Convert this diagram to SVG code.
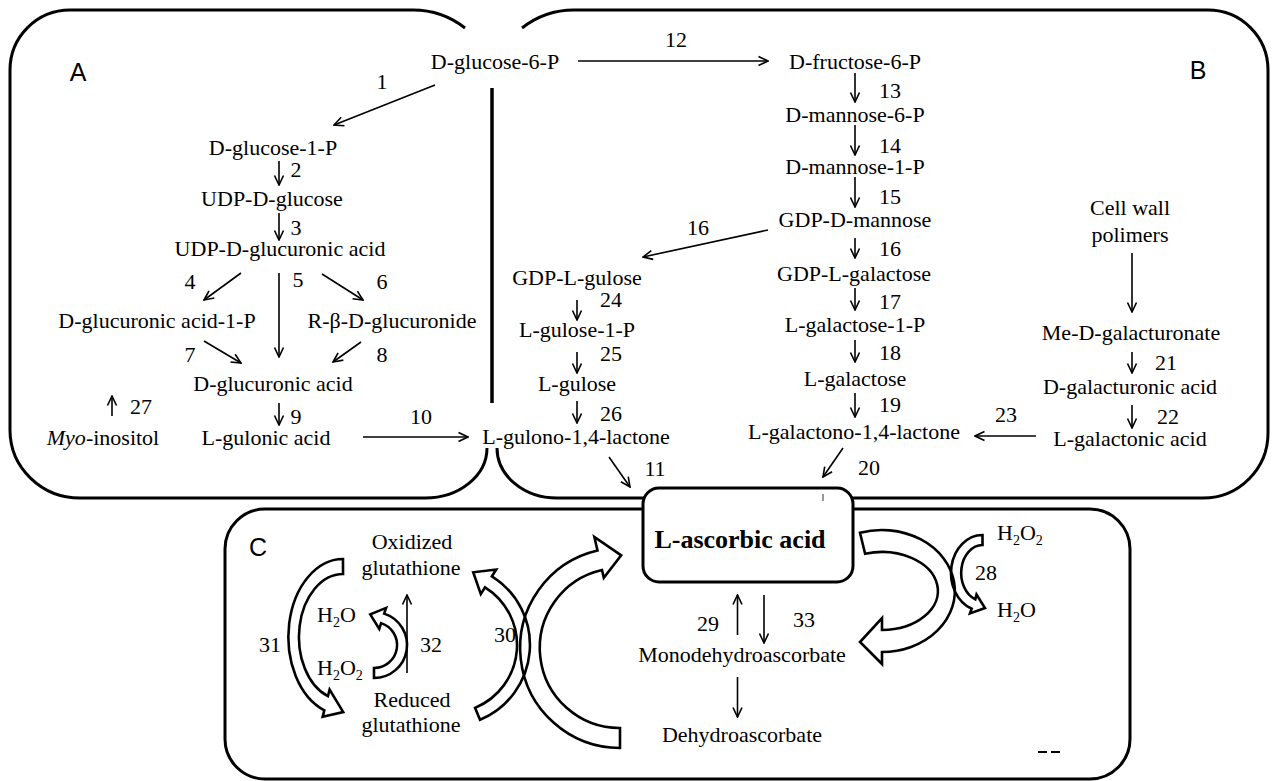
<svg xmlns="http://www.w3.org/2000/svg" width="1273" height="781" viewBox="0 0 1273 781">
<defs>
<style>
.t{font-family:"Liberation Serif","Times New Roman",serif;font-size:22px;text-anchor:middle;fill:#000}
.s{text-anchor:start}
.lbl{font-family:"Liberation Sans",Arial,sans-serif;font-size:25px;text-anchor:middle;fill:#000}
.ln{stroke:#000;stroke-width:1.6;fill:none;marker-end:url(#ah)}
.panel{fill:none;stroke:#000;stroke-width:3}
.blk{fill:none;stroke:#000;stroke-width:2.6;stroke-linejoin:miter;vector-effect:non-scaling-stroke}
.sub{font-size:14px}
</style>
<marker id="ah" viewBox="0 0 12 12" refX="11" refY="6" markerWidth="12" markerHeight="12" markerUnits="userSpaceOnUse" orient="auto">
<path d="M1.5,1.5 L11,6 L1.5,10.5" fill="none" stroke="#000" stroke-width="1.6"/>
</marker>
</defs>
<rect width="1273" height="781" fill="#fff"/>

<g id="panels">
<path class="panel" d="M465 28 A84 84 0 0 0 413 10 H70 A60 60 0 0 0 10 70 V430 A70 68 0 0 0 80 498 H425 A62 50 0 0 0 487 448"/>
<path class="panel" d="M497 448 A60 50 0 0 0 557 498 H1203 A65 65 0 0 0 1268 433 V70 A60 60 0 0 0 1208 10 H575 A84 84 0 0 0 522 28"/>
<rect class="panel" x="225" y="509" width="905" height="270" rx="40"/>
<line x1="492" y1="88" x2="492" y2="403" stroke="#000" stroke-width="3.5"/>
<text class="lbl" x="78" y="81">A</text>
<text class="lbl" x="1198" y="79">B</text>
<text class="lbl" x="258" y="556">C</text>
<path d="M1038 752 h9 M1051 752 h9" stroke="#000" stroke-width="2"/>
</g>

<g id="connectors">
<path class="ln" d="M578 61 H768"/>
<path class="ln" d="M435 85 L334 125"/>
<path class="ln" d="M279 161 V185"/>
<path class="ln" d="M279 213 V240"/>
<path class="ln" d="M241 273 L204 300"/>
<path class="ln" d="M279 273 V357"/>
<path class="ln" d="M322 274 L363 300"/>
<path class="ln" d="M204 341 L241 363"/>
<path class="ln" d="M361 342 L333 362"/>
<path class="ln" d="M112 416 V396"/>
<path class="ln" d="M279 403 V425"/>
<path class="ln" d="M363 437 H468"/>
<path class="ln" d="M855 73 V102"/>
<path class="ln" d="M855 125 V155"/>
<path class="ln" d="M855 177 V207"/>
<path class="ln" d="M855 238 V258"/>
<path class="ln" d="M768 230 L643 257"/>
<path class="ln" d="M855 288 V310"/>
<path class="ln" d="M855 340 V362"/>
<path class="ln" d="M855 393 V417"/>
<path class="ln" d="M577 300 V320"/>
<path class="ln" d="M577 352 V373"/>
<path class="ln" d="M577 401 V423"/>
<path class="ln" d="M609 457 L630 487"/>
<path class="ln" d="M843 448 L823 477"/>
<path class="ln" d="M1132 253 V312"/>
<path class="ln" d="M1132 352 V373"/>
<path class="ln" d="M1132 405 V428"/>
<path class="ln" d="M1036 436 H975"/>
<path class="ln" d="M407 673 V595"/>
<path class="ln" d="M737.5 635 V595"/>
<path class="ln" d="M764 595 V643"/>
<path class="ln" d="M737.5 677 V717"/>
<g transform="translate(343,637) scale(0.7,1) rotate(110) scale(1,-1)"><path class="blk" d="M-59.2 -21.5 L-73.3 -26.7 A78 78 0 0 1 78 0 L85 0 L70.5 26 L56 0 L63 0 A63 63 0 0 0 -59.2 -21.5 Z"/></g>
<g transform="translate(374,645) rotate(-72) scale(1,-1)"><path class="blk" d="M-21.9 -7.1 L-31.4 -10.2 A33 33 0 0 1 33 0 L39 0 L28 13 L17 0 L23 0 A23 23 0 0 0 -21.9 -7.1 Z"/></g>
<g transform="translate(449,645) rotate(-58) scale(1,-1)"><path class="blk" d="M-39.5 -55.4 L-47 -65.9 A81 81 0 0 1 81 0 L89 0 L74.5 18 L60 0 L68 0 A68 68 0 0 0 -39.5 -55.4 Z"/></g>
<g transform="translate(620,648) rotate(257)"><path class="blk" d="M-78 -18 L-97.4 -22.5 A100 100 0 0 1 100 0 L114 0 L90 22 L72 0 L80 0 A80 80 0 0 0 -78 -18 Z"/></g>
<path class="blk" d="M865.1 553.8 L860 532.8 A73 61 0 1 1 882 652 L882 664 L860 642 L882 618 L882 630 A56 39 0 1 0 865.1 553.8 Z"/>
<path class="blk" d="M982.5 545 L982.5 535 A31.5 38 0 0 0 971.7 608.7 L970 613.4 L985 608 L976.5 594.6 L975.3 599.3 A21.5 28 0 0 1 982.5 545 Z"/>
</g>

<g id="n-asc">
<rect x="643" y="488" width="210" height="94" rx="16" fill="#fff" stroke="#000" stroke-width="3"/>
<line x1="823" y1="494" x2="823" y2="501" stroke="#777" stroke-width="1.5"/>
<text class="t" x="740" y="548" style="font-weight:bold;font-size:26px">L-ascorbic acid</text>
</g>

<g id="n-g6p"><text class="t" x="495" y="69">D-glucose-6-P</text></g>
<g id="n-g1p"><text class="t" x="273" y="155">D-glucose-1-P</text></g>
<g id="n-udpg"><text class="t" x="272" y="206">UDP-D-glucose</text></g>
<g id="n-udpga"><text class="t" x="280" y="256">UDP-D-glucuronic acid</text></g>
<g id="n-ga1p"><text class="t" x="157" y="328">D-glucuronic acid-1-P</text></g>
<g id="n-rbg"><text class="t" x="392" y="328">R-β-D-glucuronide</text></g>
<g id="n-ga"><text class="t" x="273" y="391">D-glucuronic acid</text></g>
<g id="n-myo"><text class="t" x="103" y="445"><tspan font-style="italic">Myo</tspan>-inositol</text></g>
<g id="n-gulac"><text class="t" x="266" y="445">L-gulonic acid</text></g>
<g id="n-gulono"><text class="t" x="576" y="444">L-gulono-1,4-lactone</text></g>
<g id="n-f6p"><text class="t" x="855" y="69">D-fructose-6-P</text></g>
<g id="n-m6p"><text class="t" x="855" y="122">D-mannose-6-P</text></g>
<g id="n-m1p"><text class="t" x="855" y="174">D-mannose-1-P</text></g>
<g id="n-gdpm"><text class="t" x="855" y="227">GDP-D-mannose</text></g>
<g id="n-gdpgal"><text class="t" x="854" y="281">GDP-L-galactose</text></g>
<g id="n-gal1p"><text class="t" x="855" y="332">L-galactose-1-P</text></g>
<g id="n-gal"><text class="t" x="855" y="386">L-galactose</text></g>
<g id="n-galono"><text class="t" x="854" y="439">L-galactono-1,4-lactone</text></g>
<g id="n-gdpgul"><text class="t" x="577" y="285">GDP-L-gulose</text></g>
<g id="n-gul1p"><text class="t" x="577" y="337">L-gulose-1-P</text></g>
<g id="n-gul"><text class="t" x="577" y="391">L-gulose</text></g>
<g id="n-cw"><text class="t" x="1130" y="215">Cell wall</text><text class="t" x="1130" y="242">polimers</text></g>
<g id="n-medg"><text class="t" x="1131" y="340">Me-D-galacturonate</text></g>
<g id="n-dga"><text class="t" x="1130" y="394">D-galacturonic acid</text></g>
<g id="n-lga"><text class="t" x="1130" y="446">L-galactonic acid</text></g>
<g id="n-gsso"><text class="t" x="412" y="549">Oxidized</text><text class="t" x="411" y="575">glutathione</text></g>
<g id="n-gsh"><text class="t" x="412" y="707">Reduced</text><text class="t" x="411" y="732">glutathione</text></g>
<g id="n-h2o-l"><text class="t s" x="317" y="622">H<tspan class="sub" dy="5">2</tspan><tspan dy="-5">O</tspan></text></g>
<g id="n-h2o2-l"><text class="t s" x="317" y="675">H<tspan class="sub" dy="5">2</tspan><tspan dy="-5">O</tspan><tspan class="sub" dy="5">2</tspan></text></g>
<g id="n-mdha"><text class="t" x="742" y="662">Monodehydroascorbate</text></g>
<g id="n-dha"><text class="t" x="742" y="742">Dehydroascorbate</text></g>
<g id="n-h2o2-r"><text class="t s" x="997" y="540">H<tspan class="sub" dy="5">2</tspan><tspan dy="-5">O</tspan><tspan class="sub" dy="5">2</tspan></text></g>
<g id="n-h2o-r"><text class="t s" x="997" y="617">H<tspan class="sub" dy="5">2</tspan><tspan dy="-5">O</tspan></text></g>

<g id="labels">
<text class="t" x="382" y="89">1</text>
<text class="t" x="296" y="177">2</text>
<text class="t" x="296" y="235">3</text>
<text class="t" x="190" y="289">4</text>
<text class="t" x="298" y="287">5</text>
<text class="t" x="382" y="289">6</text>
<text class="t" x="190" y="362">7</text>
<text class="t" x="382" y="362">8</text>
<text class="t" x="296" y="424">9</text>
<text class="t" x="421" y="424">10</text>
<text class="t" x="655" y="476">11</text>
<text class="t" x="676" y="47">12</text>
<text class="t" x="890" y="98">13</text>
<text class="t" x="890" y="153">14</text>
<text class="t" x="890" y="204">15</text>
<text class="t" x="698" y="235">16</text>
<text class="t" x="890" y="256">16</text>
<text class="t" x="890" y="309">17</text>
<text class="t" x="890" y="360">18</text>
<text class="t" x="890" y="412">19</text>
<text class="t" x="869" y="475">20</text>
<text class="t" x="1166" y="370">21</text>
<text class="t" x="1168" y="424">22</text>
<text class="t" x="1006" y="422">23</text>
<text class="t" x="611" y="307">24</text>
<text class="t" x="611" y="361">25</text>
<text class="t" x="611" y="421">26</text>
<text class="t" x="141" y="414">27</text>
<text class="t" x="986" y="580">28</text>
<text class="t" x="708" y="631">29</text>
<text class="t" x="505" y="642">30</text>
<text class="t" x="270" y="652">31</text>
<text class="t" x="431" y="652">32</text>
<text class="t" x="804" y="627">33</text>
</g>
</svg>
